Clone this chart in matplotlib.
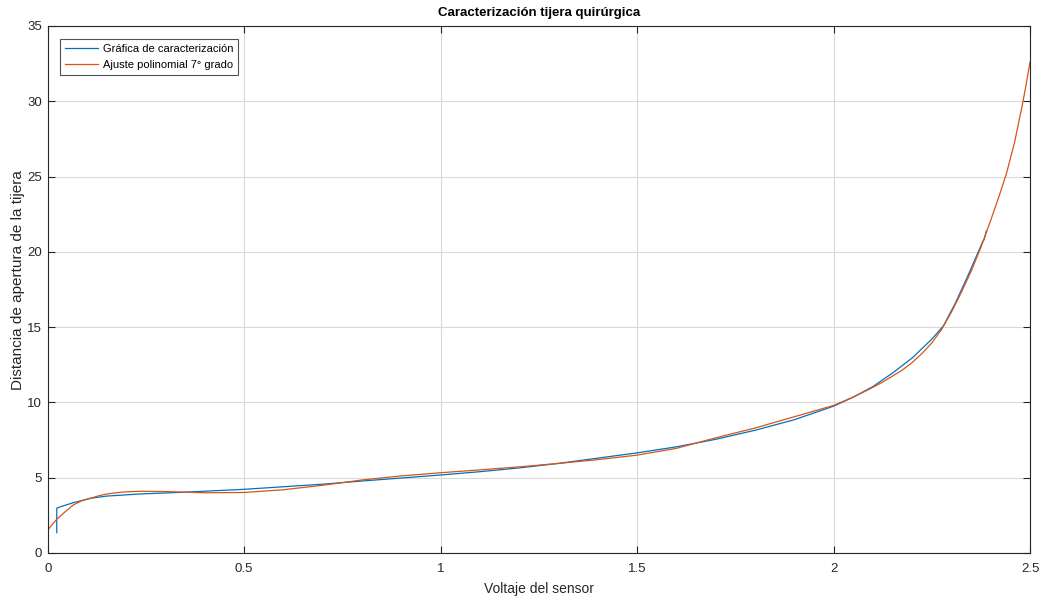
import matplotlib.pyplot as plt

plt.rcParams['font.family'] = ['Liberation Sans', 'DejaVu Sans']

# curva medida (voltaje vs apertura)
volt_med = [0.023, 0.023, 0.03, 0.065, 0.108, 0.15, 0.235, 0.35, 0.5, 0.6, 0.7, 0.8,
            0.9, 1.0, 1.1, 1.2, 1.3, 1.4, 1.5, 1.6, 1.7, 1.8, 1.9, 2.0, 2.05, 2.1,
            2.15, 2.2, 2.25, 2.28, 2.31, 2.34, 2.36, 2.38, 2.383, 2.389]
dist_med = [1.35, 2.97, 3.05, 3.34, 3.63, 3.78, 3.92, 4.04, 4.23, 4.4, 4.57, 4.78,
            4.98, 5.18, 5.4, 5.65, 5.95, 6.3, 6.65, 7.05, 7.55, 8.15, 8.85, 9.75, 10.35, 11.05,
            11.95, 12.95, 14.2, 15.1, 16.6, 18.3, 19.5, 20.7, 20.8, 21.4]

# ajuste polinomial de 7 grado
volt_fit = [0, 0.023, 0.045, 0.065, 0.085, 0.108, 0.13, 0.15, 0.192, 0.235, 0.3, 0.4,
            0.5, 0.6, 0.7, 0.8, 0.9, 1.0, 1.1, 1.2, 1.3, 1.4, 1.5, 1.6, 1.7, 1.8, 1.9,
            2.0, 2.05, 2.1, 2.125, 2.15, 2.175, 2.2, 2.225, 2.25, 2.275, 2.3, 2.325, 2.35,
            2.375, 2.4, 2.42, 2.44, 2.46, 2.48, 2.49, 2.5]
dist_fit = [1.53, 2.24, 2.75, 3.19, 3.45, 3.63, 3.8, 3.92, 4.05, 4.1, 4.08, 4.0,
            4.02, 4.2, 4.5, 4.85, 5.12, 5.33, 5.52, 5.72, 5.95, 6.2, 6.5, 6.95, 7.65, 8.3, 9.05,
            9.8, 10.35, 11.0, 11.35, 11.75, 12.15, 12.65, 13.25, 13.95, 14.85, 16.0, 17.3, 18.7,
            20.3, 22.1, 23.6, 25.2, 27.2, 29.7, 31.1, 32.6]

x_ticks = [0, 0.5, 1, 1.5, 2, 2.5]
x_tick_labels = ['0', '0.5', '1', '1.5', '2', '2.5']
y_ticks = [0, 5, 10, 15, 20, 25, 30, 35]

fig = plt.figure(figsize=(10.42, 5.99), dpi=100)
ax = fig.add_axes([0.0458, 0.0768, 0.9427, 0.8798])

ax.plot(volt_med, dist_med, color='#0072BD', lw=0.9, label='Gráfica de caracterización')
ax.plot(volt_fit, dist_fit, color='#D95319', lw=0.9, label='Ajuste polinomial 7° grado')

ax.set_xlim(0, 2.5)
ax.set_ylim(0, 35)
ax.set_xticks(x_ticks)
ax.set_xticklabels(x_tick_labels)
ax.set_yticks(y_ticks)
ax.grid(True, color='#d9d9d9', lw=0.8)
ax.set_axisbelow(True)
ax.tick_params(direction='in', length=5, width=0.8, top=True, right=True,
               labelsize=9.5, colors='#262626')
ax.tick_params(axis='x', pad=7)
ax.tick_params(axis='y', pad=4)
for s in ax.spines.values():
    s.set_color('#262626')
    s.set_linewidth(0.8)

ax.set_title('Caracterización tijera quirúrgica', fontsize=9.5, fontweight='bold', pad=7)
ax.set_xlabel('Voltaje del sensor', fontsize=10, color='#262626', labelpad=5)
ax.set_ylabel('Distancia de apertura de la tijera', fontsize=11, color='#262626')
ax.yaxis.set_label_coords(-0.023, 0.518)

leg = ax.legend(loc='upper left', bbox_to_anchor=(0.0125, 0.975), fontsize=8,
                frameon=True, fancybox=False, edgecolor='#262626', handlelength=3.0,
                handletextpad=0.4, borderpad=0.45, labelspacing=0.5, borderaxespad=0)
leg.get_frame().set_linewidth(0.8)

fig.savefig('out.png', dpi=100, facecolor='white')
